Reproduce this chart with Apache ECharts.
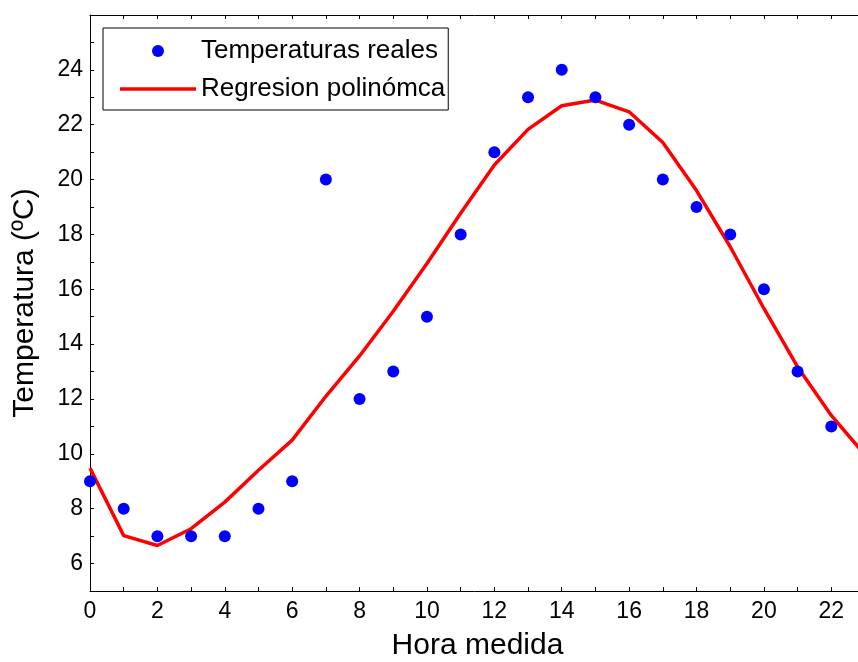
<!DOCTYPE html>
<html>
<head>
<meta charset="utf-8">
<script src="https://cdn.jsdelivr.net/npm/echarts@6/dist/echarts.min.js"></script>
<style>
  html, body { margin: 0; padding: 0; background: #fff; }
  #chart { width: 858px; height: 662px; }
</style>
</head>
<body>
<div id="chart"></div>
<script>
const horas = [0, 1, 2, 3, 4, 5, 6, 7, 8, 9, 10, 11, 12, 13, 14, 15, 16, 17, 18, 19, 20, 21, 22, 23];
const tempReales = [9, 8, 7, 7, 7, 8, 9, 20, 12, 13, 15, 18, 21, 23, 24, 23, 22, 20, 19, 18, 16, 13, 11, 10];
const tempRegresion = [9.48, 7.02, 6.66, 7.27, 8.24, 9.4, 10.5, 12.1, 13.57, 15.2, 16.94, 18.77, 20.53,
  21.83, 22.69, 22.9, 22.47, 21.35, 19.6, 17.55, 15.3, 13.17, 11.4, 9.96];
const yLabels = [6, 8, 10, 12, 14, 16, 18, 20, 22, 24];

const font = 'Liberation Sans, Arial, sans-serif';

const chart = echarts.init(document.getElementById('chart'));

const tickStyle = { color: '#000', width: 1 };

chart.setOption({
  animation: false,
  backgroundColor: '#fff',
  grid: {
    left: 90,
    top: 15,
    bottom: 71,
    width: 775,   // el eje llega a 23, un poco fuera de la imagen
    outerBoundsMode: 'none'
  },
  legend: {
    orient: 'vertical',
    left: 103,
    top: 28,
    padding: [10, 3, 8, 17],
    itemGap: 12,
    itemWidth: 76,
    itemHeight: 12,
    itemTextGap: 10,
    borderColor: '#000',
    borderWidth: 1,
    backgroundColor: '#fff',
    textStyle: { fontFamily: font, fontSize: 26, color: '#000' },
    data: [
      { name: 'Temperaturas reales', icon: 'circle' },
      { name: 'Regresion polinómca', icon: 'path://M0,0 L76,0 L76,3.5 L0,3.5 Z' }
    ]
  },
  xAxis: [{
    type: 'value',
    min: 0,
    max: 23,
    interval: 1,
    name: 'Hora medida',
    nameLocation: 'middle',
    nameGap: 40,
    nameTextStyle: { fontFamily: font, fontSize: 30, color: '#000' },
    axisLine: { show: true, lineStyle: { color: '#000', width: 1 } },
    axisTick: { show: true, inside: true, length: 4, lineStyle: tickStyle },
    axisLabel: {
      fontFamily: font,
      fontSize: 23,
      color: '#000',
      margin: 9,
      formatter: v => (v % 2 === 0 ? String(v) : '')
    },
    splitLine: { show: false }
  }, {
    type: 'value',
    position: 'top',
    min: 0,
    max: 23,
    interval: 1,
    axisLine: { show: true, onZero: false, lineStyle: { color: '#000', width: 1 } },
    axisTick: { show: true, inside: true, length: 4, lineStyle: tickStyle },
    axisLabel: { show: false },
    splitLine: { show: false }
  }],
  yAxis: {
    type: 'value',
    min: 5,
    max: 26,
    interval: 1,
    name: 'Temperatura (ºC)',
    nameLocation: 'middle',
    nameGap: 50,
    nameTextStyle: { fontFamily: font, fontSize: 30, color: '#000' },
    axisLine: { show: true, lineStyle: { color: '#000', width: 1 } },
    axisTick: { show: true, inside: true, length: 4, lineStyle: tickStyle },
    axisLabel: {
      fontFamily: font,
      fontSize: 23,
      color: '#000',
      margin: 7,
      formatter: v => (yLabels.indexOf(v) >= 0 ? String(v) : '')
    },
    splitLine: { show: false }
  },
  series: [
    {
      name: 'Temperaturas reales',
      type: 'scatter',
      symbol: 'circle',
      symbolSize: 12,
      itemStyle: { color: '#0000ff', opacity: 1 },
      data: horas.map((h, i) => [h, tempReales[i]]),
      z: 3
    },
    {
      name: 'Regresion polinómca',
      type: 'line',
      symbol: 'none',
      lineStyle: { color: '#ff0000', width: 3.5 },
      itemStyle: { color: '#ff0000' },
      data: horas.map((h, i) => [h, tempRegresion[i]]),
      z: 2
    }
  ]
});
</script>
</body>
</html>
